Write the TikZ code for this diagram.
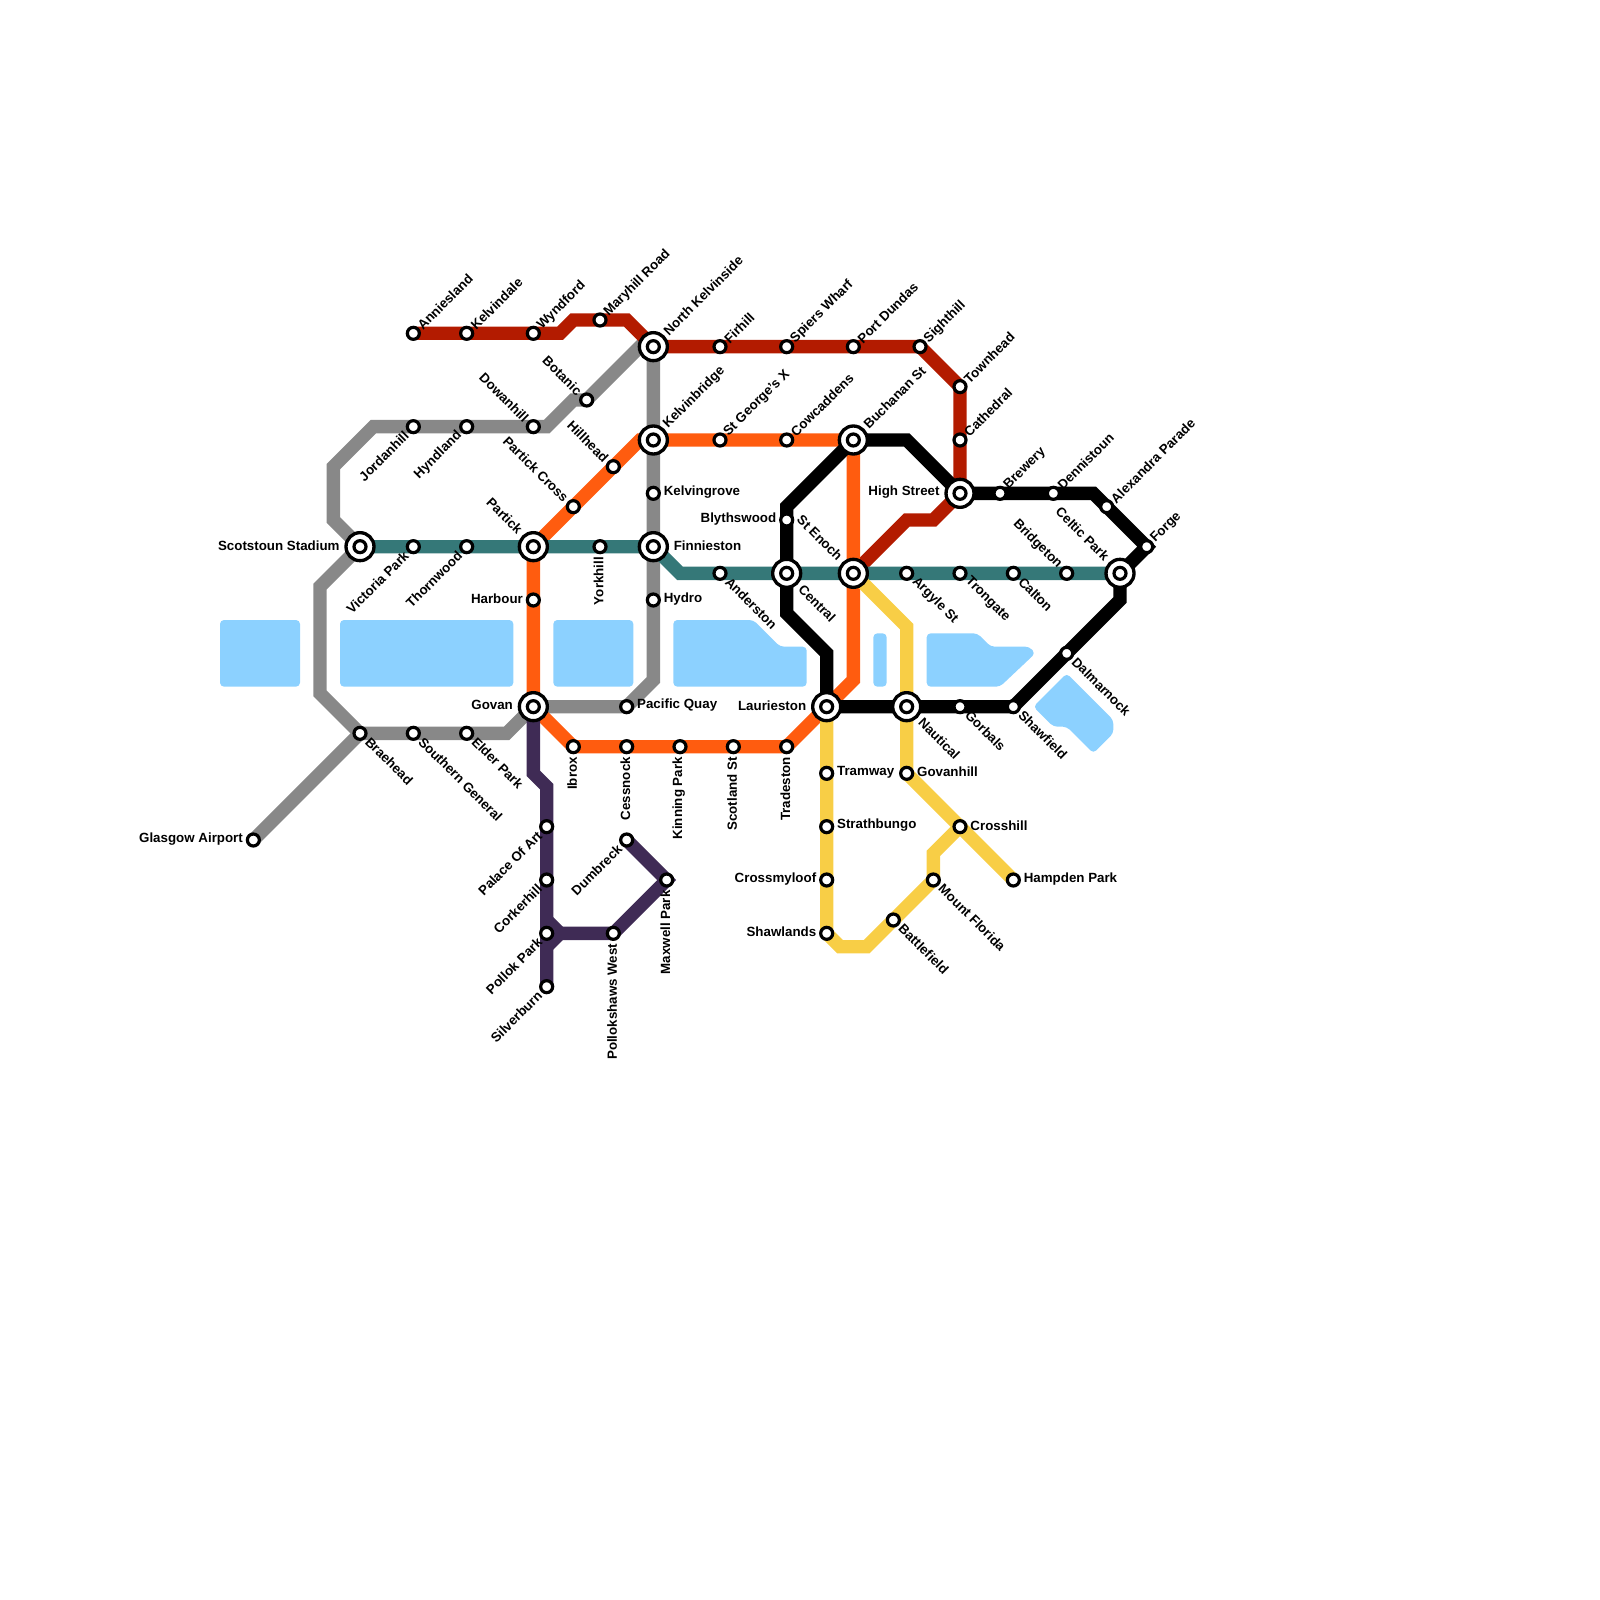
\documentclass[tikz,border=0pt]{standalone}
\usepackage{fontspec}
\setmainfont{Liberation Sans}
\usetikzlibrary{backgrounds}
\definecolor{WaterColor}{RGB}{140,209,255}
\definecolor{RedLine}{RGB}{179,27,0}
\definecolor{OrangeLine}{RGB}{255,92,15}
\definecolor{TealLine}{RGB}{53,120,120}
\definecolor{GreyLine}{RGB}{136,136,136}
\definecolor{PurpleLine}{RGB}{63,43,85}
\definecolor{YellowLine}{RGB}{248,206,70}
\tikzset{
  metro/.style={line width=0.2cm, line join=miter},
  water/.style={fill=WaterColor, rounded corners=0.06cm},
  stopmark/.style={circle, draw=black, fill=white, line width=0.048cm, minimum size=0.18cm, inner sep=0pt, outer sep=0pt},
  hubmark/.style={circle, draw=black, fill=white, line width=0.05cm, minimum size=0.42cm, inner sep=0pt, outer sep=0pt},
  lbl/.style={font=\bfseries\fontsize{5.69pt}{6pt}\selectfont, inner sep=0pt, text=black},
  lblE/.style={lbl, anchor=west},
  lblW/.style={lbl, anchor=east},
  lblNE/.style={lbl, anchor=west, rotate=45},
  lblSW/.style={lbl, anchor=east, rotate=45},
  lblNW/.style={lbl, anchor=east, rotate=-45},
  lblSE/.style={lbl, anchor=west, rotate=-45},
  lblS/.style={lbl, anchor=east, rotate=90},
}
\begin{document}
\begin{tikzpicture}[x=0.2cm, y=-0.2cm]
  \useasboundingbox (0,0) rectangle (120,120);
  % plain stops, one loop per label side
  \foreach \id/\xx/\yy/\txt in {anniesland/31/25/Anniesland, kelvindale/35/25/Kelvindale, wyndford/40/25/Wyndford, maryhill/45/24/Maryhill Road, firhill/54/26/Firhill, spiers/59/26/Spiers Wharf, dundas/64/26/Port Dundas, sighthill/69/26/Sighthill, townhead/72/29/Townhead, cathedral/72/33/Cathedral, georges/54/33/St George's X, cowcaddens/59/33/Cowcaddens, brewery/75/37/Brewery, dennistoun/79/37/Dennistoun, alexandra/83/38/Alexandra Parade, forge/86/41/Forge}
    {\node[stopmark] (\id) at (\xx,\yy) {};
     \node[lblNE] (\id-t) at ([shift={(0.45,-0.42)}]\xx,\yy) {\txt};}
  \foreach \id/\xx/\yy/\txt in {jordanhill/31/32/Jordanhill, hyndland/35/32/Hyndland, victoria/31/41/Victoria Park, thornwood/35/41/Thornwood, palace/41/62/Palace Of Art, corkerhill/41/66/Corkerhill, pollok/41/70/Pollok Park, silverburn/41/74/Silverburn, dumbreck/47/63/Dumbreck}
    {\node[stopmark] (\id) at (\xx,\yy) {};
     \node[lblSW] (\id-t) at ([shift={(-0.5,0.5)}]\xx,\yy) {\txt};}
  \foreach \id/\xx/\yy/\txt in {botanic/44/30/Botanic, dowanhill/40/32/Dowanhill, hillhead/46/35/Hillhead, partickx/43/38/Partick Cross, bridgeton/80/43/Bridgeton}
    {\node[stopmark] (\id) at (\xx,\yy) {};
     \node[lblNW] (\id-t) at ([shift={(-0.5,-0.5)}]\xx,\yy) {\txt};}
  \foreach \id/\xx/\yy/\txt in {braehead/27/55/Braehead, southern/31/55/Southern General, elder/35/55/Elder Park, anderston/54/43/Anderston, argyle/68/43/Argyle St, trongate/72/43/Trongate, calton/76/43/Calton, gorbals/72/53/Gorbals, shawfield/76/53/Shawfield, dalmarnock/80/49/Dalmarnock, mountflorida/70/66/Mount Florida, battlefield/67/69/Battlefield}
    {\node[stopmark] (\id) at (\xx,\yy) {};
     \node[lblSE] (\id-t) at ([shift={(0.55,0.45)}]\xx,\yy) {\txt};}
  \foreach \id/\xx/\yy/\txt in {blythswood/59/39/Blythswood, harbour/40/45/Harbour, crossmyloof/62/66/Crossmyloof, shawlands/62/70/Shawlands, airport/19/63/Glasgow Airport}
    {\node[stopmark] (\id) at (\xx,\yy) {};
     \node[lblW] (\id-t) at (\xx-0.75,\yy-0.1) {\txt};}
  \foreach \id/\xx/\yy/\txt in {kelvingrove/49/37/Kelvingrove, hydro/49/45/Hydro, pacific/47/53/Pacific Quay, tramway/62/58/Tramway, strathbungo/62/62/Strathbungo, govanhill/68/58/Govanhill, crosshill/72/62/Crosshill, hampden/76/66/Hampden Park}
    {\node[stopmark] (\id) at (\xx,\yy) {};
     \node[lblE] (\id-t) at (\xx+0.75,\yy-0.1) {\txt};}
  \foreach \id/\xx/\yy/\txt in {yorkhill/45/41/Yorkhill, ibrox/43/56/Ibrox, cessnock/47/56/Cessnock, kinning/51/56/Kinning Park, scotland/55/56/Scotland St, tradeston/59/56/Tradeston, pollokshaws/46/70/Pollokshaws West, maxwell/50/66/Maxwell Park}
    {\node[stopmark] (\id) at (\xx,\yy) {};
     \node[lblS] (\id-t) at (\xx-0.1,\yy+0.75) {\txt};}
  % interchanges
  \foreach \id/\xx/\yy/\txt in {northkelvinside/49/26/North Kelvinside, kelvinbridge/49/33/Kelvinbridge, buchanan/64/33/Buchanan St}
    {\node[hubmark] (\id) at (\xx,\yy) {};
     \node[stopmark] (\id-c) at (\id.center) {};
     \node[lblNE] (\id-t) at ([shift={(0.9,-1.0)}]\xx,\yy) {\txt};}
  \foreach \id/\xx/\yy/\txt in {partick/40/41/Partick, stenoch/64/43/St Enoch, celtic/84/43/Celtic Park}
    {\node[hubmark] (\id) at (\xx,\yy) {};
     \node[stopmark] (\id-c) at (\id.center) {};
     \node[lblNW] (\id-t) at ([shift={(-0.95,-1.1)}]\xx,\yy) {\txt};}
  \foreach \id/\xx/\yy/\txt in {central/59/43/Central, nautical/68/53/Nautical}
    {\node[hubmark] (\id) at (\xx,\yy) {};
     \node[stopmark] (\id-c) at (\id.center) {};
     \node[lblSE] (\id-t) at ([shift={(1.05,1.0)}]\xx,\yy) {\txt};}
  \foreach \id/\xx/\yy/\txt in {scotstoun/27/41/Scotstoun Stadium, govan/40/53/Govan, laurieston/62/53/Laurieston, highstreet/72/37/High Street}
    {\node[hubmark] (\id) at (\xx,\yy) {};
     \node[stopmark] (\id-c) at (\id.center) {};
     \node[lblW] (\id-t) at (\xx-1.5,\yy-0.1) {\txt};}
  \node[hubmark] (finnieston) at (49,41) {};
  \node[stopmark] (finnieston-c) at (finnieston.center) {};
  \node[lblE] (finnieston-t) at (50.5,40.9) {Finnieston};

  \begin{scope}[on background layer]
    % water
    \fill[water] (16.5,46.5) rectangle (22.5,51.5);
    \fill[water] (25.5,46.5) rectangle (38.5,51.5);
    \fill[water] (41.5,46.5) rectangle (47.5,51.5);
    \fill[water] (50.5,46.5) -- (56.5,46.5) -- (58.5,48.5) -- (60.5,48.5) -- (60.5,51.5) -- (50.5,51.5) -- cycle;
    \fill[water] (65.5,47.5) rectangle (66.5,51.5);
    \fill[water] (69.5,47.5) -- (73.3,47.5) -- (74.3,48.5) -- (77.2,48.5) -- (77.65,49) -- (75,51.5) -- (69.5,51.5) -- cycle;
    \fill[water] (80,50.5) -- (83.5,54) -- (83.5,55) -- (82,56.5) -- (80,54.5) -- (79,54.5) -- (77.5,53) -- cycle;
    % lines
    \draw[metro, GreyLine] (airport.center) -- (braehead.center);
    \draw[metro, GreyLine] (northkelvinside.center) -- (48,26) -- (botanic.center) -- (43,30) -- (41,32) -- (dowanhill.center) -- (hyndland.center) -- (jordanhill.center) -- (28,32) -- (25,35) -- (25,39) -- (scotstoun.center) -- (24,44) -- (24,52) -- (braehead.center) -- (southern.center) -- (elder.center) -- (38,55) -- (govan.center) -- (pacific.center) -- (49,51) -- (hydro.center) -- (finnieston.center) -- (kelvingrove.center) -- (kelvinbridge.center) -- (northkelvinside.center);
    \draw[metro, RedLine] (anniesland.center) -- (kelvindale.center) -- (wyndford.center) -- (42,25) -- (43,24) -- (maryhill.center) -- (47,24) -- (northkelvinside.center) -- (firhill.center) -- (spiers.center) -- (dundas.center) -- (sighthill.center) -- (townhead.center) -- (cathedral.center) -- (highstreet.center) -- (70,39) -- (68,39) -- (stenoch.center);
    \draw[metro, OrangeLine] (kelvinbridge.center) -- (georges.center) -- (cowcaddens.center) -- (buchanan.center) -- (stenoch.center) -- (64,51) -- (laurieston.center) -- (tradeston.center) -- (scotland.center) -- (kinning.center) -- (cessnock.center) -- (ibrox.center) -- (govan.center) -- (harbour.center) -- (partick.center) -- (partickx.center) -- (hillhead.center) -- (48,33) -- (kelvinbridge.center);
    \draw[metro, TealLine] (scotstoun.center) -- (victoria.center) -- (thornwood.center) -- (partick.center) -- (yorkhill.center) -- (finnieston.center) -- (51,43) -- (anderston.center) -- (central.center) -- (stenoch.center) -- (argyle.center) -- (trongate.center) -- (calton.center) -- (bridgeton.center) -- (celtic.center);
    \draw[metro, YellowLine] (stenoch.center) -- (68,47) -- (nautical.center) -- (govanhill.center) -- (crosshill.center) -- (hampden.center);
    \draw[metro, YellowLine] (crosshill.center) -- (70,64) -- (mountflorida.center) -- (battlefield.center) -- (65,71) -- (63,71) -- (shawlands.center) -- (crossmyloof.center) -- (strathbungo.center) -- (tramway.center) -- (laurieston.center);
    \draw[metro, PurpleLine] (govan.center) -- (40,58) -- (41,59) -- (palace.center) -- (corkerhill.center) -- (pollok.center) -- (silverburn.center);
    \coordinate (pollokfork) at (42,70);
    \draw[metro, PurpleLine] (41,69) -- (pollokfork) -- (41,71);
    \draw[metro, PurpleLine] (pollokfork) -- (pollokshaws.center) -- (maxwell.center) -- (dumbreck.center);
    \draw[metro, black] (buchanan.center) -- (68,33) -- (highstreet.center) -- (brewery.center) -- (dennistoun.center) -- (82,37) -- (alexandra.center) -- (forge.center) -- (celtic.center) -- (84,45) -- (dalmarnock.center) -- (shawfield.center) -- (gorbals.center) -- (nautical.center) -- (laurieston.center) -- (62,49) -- (59,46) -- (central.center) -- (blythswood.center) -- (59,38) -- (buchanan.center);
  \end{scope}
\end{tikzpicture}
\end{document}
